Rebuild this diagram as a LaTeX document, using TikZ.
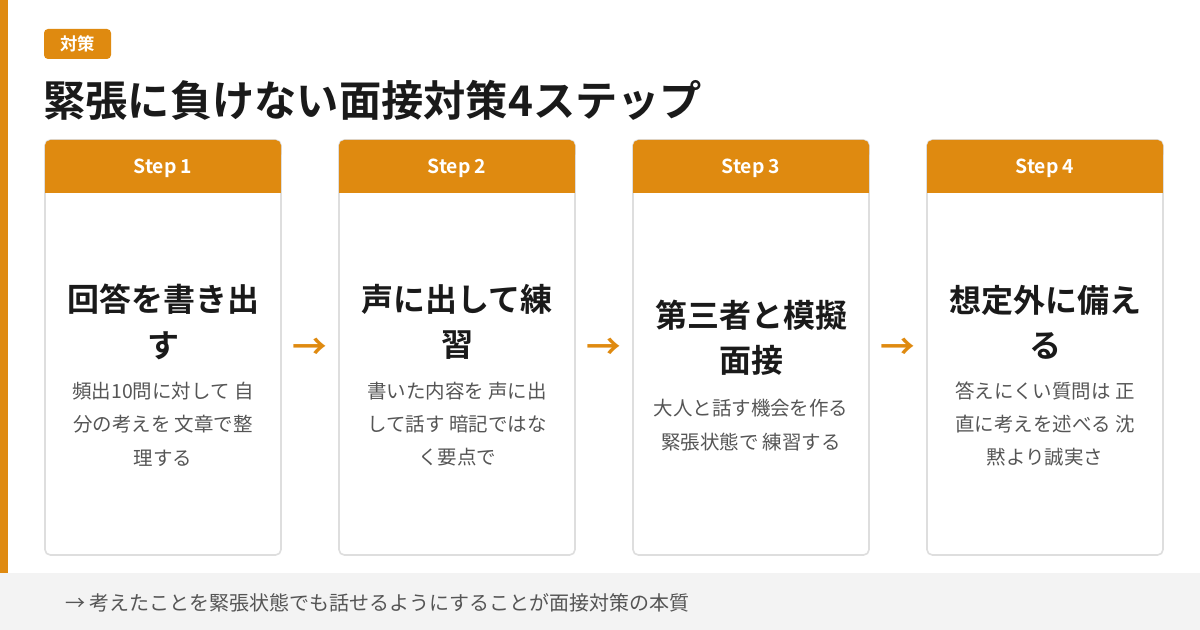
\documentclass[tikz,border=0pt]{standalone}
\usepackage{fontspec}
\setmainfont{Noto Sans CJK JP}
\newfontfamily\jpbold{Noto Sans CJK JP Bold}
\usetikzlibrary{positioning}
\definecolor{accentorange}{RGB}{223,138,16}
\definecolor{cardline}{RGB}{222,222,222}
\definecolor{bandgray}{RGB}{243,243,243}
\definecolor{bodygray}{RGB}{85,85,85}
\definecolor{inkdark}{RGB}{26,26,26}
\tikzset{
  card/.style={draw=cardline, line width=1.2pt, rounded corners=4pt, fill=white},
  stephead/.style={text=white, font=\jpbold\fontsize{14.5}{17}\selectfont},
  cardtitle/.style={text=inkdark, align=center, font=\jpbold\fontsize{24}{34}\selectfont},
  carddesc/.style={text=bodygray, align=center, font=\fontsize{14.6}{25}\selectfont},
  flowarrow/.style={text=accentorange, font=\jpbold\fontsize{26}{26}\selectfont}
}
\begin{document}
\begin{tikzpicture}[x=0.75pt, y=-0.75pt]
    \useasboundingbox (0,0) rectangle (1200,630);
    \fill[white] (0,0) rectangle (1200,630);
    \fill[accentorange] (0,0) rectangle (8,573);
    \fill[bandgray] (0,573) rectangle (1200,630);

    % Tag and title
    \fill[accentorange, rounded corners=3pt] (44,29) rectangle (111,59);
    \node[text=white, font=\jpbold\fontsize{13}{15}\selectfont] (tag) at (77.5,44) {対策};
    \node[anchor=west, inner sep=0pt, text=inkdark, font=\jpbold\fontsize{31.7}{36}\selectfont] (title) at (43,100) {緊張に負けない面接対策4ステップ};

    % Cards
    \foreach \i/\x/\head/\lines/\desc/\ty/\dy in {
        1/45/Step 1/{回答を書き出\\す}/{頻出10問に対して 自\\分の考えを 文章で整\\理する}/322/424,
        2/339/Step 2/{声に出して練\\習}/{書いた内容を 声に出\\して話す 暗記ではな\\く要点で}/322/424,
        3/633/Step 3/{第三者と模擬\\面接}/{大人と話す機会を作る\\緊張状態で 練習する}/338/425,
        4/927/Step 4/{想定外に備え\\る}/{答えにくい質問は 正\\直に考えを述べる 沈\\黙より誠実さ}/322/424} {
        \draw[card] (\x,140) rectangle ++(236,415);
        \fill[accentorange, rounded corners=4pt] (\x,140) rectangle ++(236,20);
        \fill[accentorange] (\x,150) rectangle ++(236,43);
        \node[stephead] (head\i) at (\x+118,168) {\head};
        \node[cardtitle] (name\i) at (\x+118,\ty) {\lines};
        \node[carddesc] (desc\i) at (\x+118,\dy) {\desc};
    }

    % Arrows between cards
    \foreach \x in {310,604,898} {
        \node[flowarrow] at (\x,349) {→};
    }

    % Bottom summary
    \node[anchor=west, inner sep=0pt, text=bodygray, font=\fontsize{15}{18}\selectfont] (summary) at (65,603) {→ 考えたことを緊張状態でも話せるようにすることが面接対策の本質};
\end{tikzpicture}
\end{document}
